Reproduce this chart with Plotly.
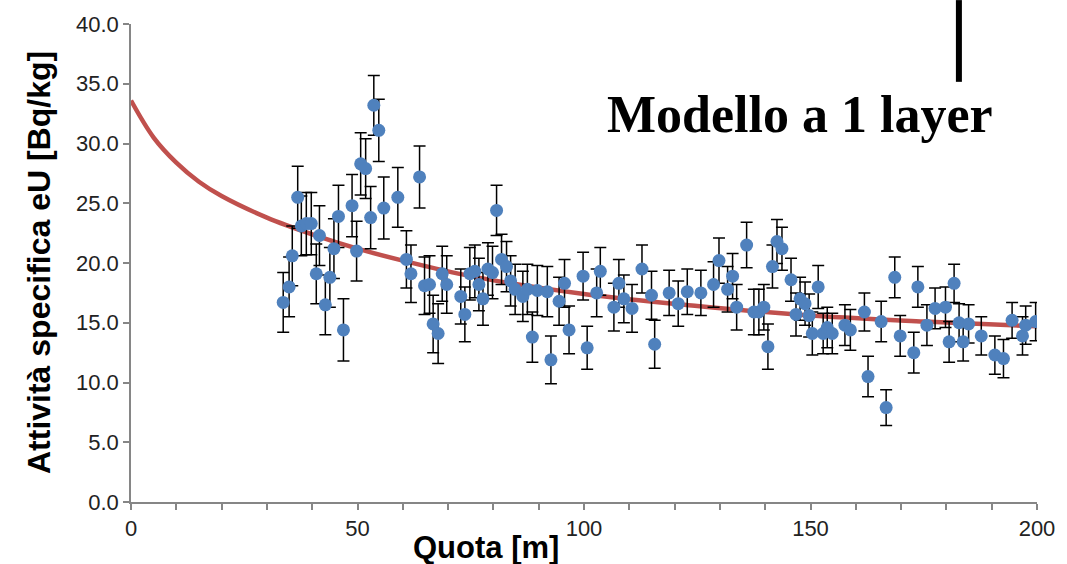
import plotly.graph_objects as go

# Measured data (Quota [m], Attività specifica eU [Bq/kg], uncertainty)
quota = [33.6, 34.9, 35.6, 36.8, 37.6, 38.7, 39.8, 40.9, 41.6, 42.9,
         43.9, 44.8, 45.8, 46.9, 48.8, 49.8, 50.7, 51.8, 52.9, 53.6,
         54.7, 55.8, 58.9, 60.8, 61.8, 63.7, 64.8, 65.9, 66.7, 67.8,
         68.7, 69.7, 72.8, 73.7, 74.8, 75.9, 76.8, 77.7, 78.8, 79.8,
         80.7, 81.8, 82.9, 83.8, 84.8, 86.5, 87.5, 88.6, 89.7, 91.9,
         92.7, 94.5, 95.7, 96.7, 99.8, 100.7, 102.8, 103.6, 106.6, 107.7,
         108.8, 110.6, 112.8, 114.9, 115.6, 118.8, 120.8, 122.8, 125.8, 128.6,
         129.8, 131.7, 132.8, 133.7, 135.9, 137.5, 138.6, 139.7, 140.6, 141.6,
         142.6, 143.7, 145.7, 146.8, 147.7, 148.8, 149.7, 150.4, 151.7, 152.8,
         153.7, 154.8, 157.6, 158.8, 161.9, 162.7, 165.6, 166.7, 168.6, 169.8,
         172.8, 173.7, 175.7, 177.5, 179.8, 180.6, 181.7, 182.8, 183.7, 184.9,
         187.7, 190.7, 192.6, 194.5, 196.8, 197.5, 199.7]
attivita = [16.7, 18.0, 20.6, 25.5, 23.1, 23.3, 23.3, 19.1, 22.3, 16.5,
            18.8, 21.2, 23.9, 14.4, 24.8, 21.0, 28.3, 27.9, 23.8, 33.2,
            31.1, 24.6, 25.5, 20.3, 19.1, 27.2, 18.1, 18.2, 14.9, 14.1,
            19.1, 18.2, 17.2, 15.7, 19.1, 19.3, 18.2, 17.0, 19.5, 19.2,
            24.4, 20.3, 19.7, 18.5, 17.8, 17.2, 17.8, 13.8, 17.7, 17.6,
            11.9, 16.8, 18.3, 14.4, 18.9, 12.9, 17.5, 19.3, 16.3, 18.3,
            17.0, 16.2, 19.5, 17.3, 13.2, 17.5, 16.6, 17.6, 17.5, 18.2,
            20.2, 17.8, 18.9, 16.3, 21.5, 15.9, 15.9, 16.3, 13.0, 19.7,
            21.8, 21.2, 18.6, 15.7, 17.0, 16.6, 15.6, 14.1, 18.0, 14.1,
            14.6, 14.1, 14.8, 14.4, 15.9, 10.5, 15.1, 7.9, 18.8, 13.9,
            12.5, 18.0, 14.8, 16.2, 16.3, 13.4, 18.3, 15.0, 13.4, 14.9,
            13.9, 12.3, 12.0, 15.2, 13.9, 14.8, 15.1]
errore = [2.5, 2.5, 2.5, 2.6, 2.5, 2.6, 2.6, 2.5, 2.5, 2.5,
          2.5, 2.5, 2.6, 2.6, 2.6, 2.5, 2.6, 2.5, 2.6, 2.5,
          2.6, 2.6, 2.5, 2.4, 2.4, 2.6, 2.4, 2.4, 2.4, 2.5,
          2.3, 2.4, 2.3, 2.3, 2.2, 2.2, 2.2, 2.2, 2.2, 2.2,
          2.1, 2.1, 2.1, 2.1, 2.1, 2.1, 2.1, 2.1, 2.1, 2.1,
          2.0, 2.0, 2.0, 2.0, 2.0, 1.8, 2.0, 2.0, 2.0, 2.0,
          2.0, 2.0, 2.0, 2.0, 2.0, 1.9, 1.9, 1.9, 1.9, 1.9,
          1.9, 1.9, 1.9, 1.9, 1.9, 1.9, 1.9, 1.9, 1.9, 1.8,
          1.85, 1.8, 1.8, 1.8, 1.8, 1.8, 1.8, 1.8, 1.8, 1.7,
          1.7, 1.7, 1.7, 1.7, 1.6, 1.7, 1.7, 1.5, 1.7, 1.7,
          1.7, 1.7, 1.7, 1.7, 1.7, 1.7, 1.6, 1.6, 1.6, 1.6,
          1.6, 1.6, 1.6, 1.5, 1.6, 1.6, 1.6]

# Model curve ("Modello a 1 layer")
curve_x = [0, 5, 10, 15, 20, 30, 40, 50, 60, 75, 100, 125, 150, 175, 200]
curve_y = [33.6, 30.5, 28.4, 26.8, 25.6, 23.8, 22.4, 21.2, 20.2, 18.9,
           17.4, 16.4, 15.6, 15.1, 14.7]

x_ticks = [0, 50, 100, 150, 200]
y_ticks = [0, 5, 10, 15, 20, 25, 30, 35, 40]

fig = go.Figure()
fig.add_trace(go.Scatter(
    x=curve_x, y=curve_y, mode="lines",
    line=dict(color="#C0504D", width=4.5, shape="spline"),
    showlegend=False, hoverinfo="skip"))
fig.add_trace(go.Scatter(
    x=quota, y=attivita, mode="markers",
    marker=dict(color="#4F81BD", size=13),
    error_y=dict(type="data", array=errore, visible=True,
                 color="#000000", thickness=1.5, width=6),
    showlegend=False))

axis_common = dict(showgrid=False, zeroline=False, showline=True,
                   linecolor="#868686", linewidth=1.5, ticks="outside",
                   tickcolor="#868686", ticklen=6, tickwidth=1.5,
                   tickfont=dict(family="Liberation Sans", size=22, color="#222222"))

fig.update_layout(
    width=1067, height=564,
    margin=dict(l=131, r=20, t=21, b=62),
    paper_bgcolor="white", plot_bgcolor="white",
    xaxis=dict(range=[0, 200], tickvals=x_ticks,
               minor=dict(dtick=10, ticks="outside", ticklen=6,
                          tickcolor="#868686", tickwidth=1.5),
               **axis_common),
    yaxis=dict(range=[0, 40], tickvals=y_ticks, tickformat=".1f",
               **axis_common),
    annotations=[
        dict(text="<b>Modello a 1 layer</b>", xref="paper", yref="paper",
             x=0.738, y=0.81, showarrow=False, xanchor="center", yanchor="middle",
             font=dict(family="Liberation Serif", size=52, color="black")),
        dict(text="<b>Attività specifica eU [Bq/kg]</b>", xref="paper", yref="paper",
             x=-0.1015, y=0.5, showarrow=False, textangle=-90,
             xanchor="center", yanchor="middle",
             font=dict(family="Liberation Sans", size=32, color="black")),
        dict(text="<b>Quota [m]</b>", xref="paper", yref="paper",
             x=0.392, y=-0.096, showarrow=False, xanchor="center", yanchor="middle",
             font=dict(family="Liberation Sans", size=31, color="black")),
    ],
    shapes=[dict(type="line", xref="paper", yref="paper",
                 x0=0.9138, x1=0.9138, y0=1.05, y1=0.879,
                 line=dict(color="black", width=6))],
)

fig.write_html(
    "out.html",
    config={"displayModeBar": False},
    post_script="document.body.style.margin='0';document.body.style.overflow='hidden';")
